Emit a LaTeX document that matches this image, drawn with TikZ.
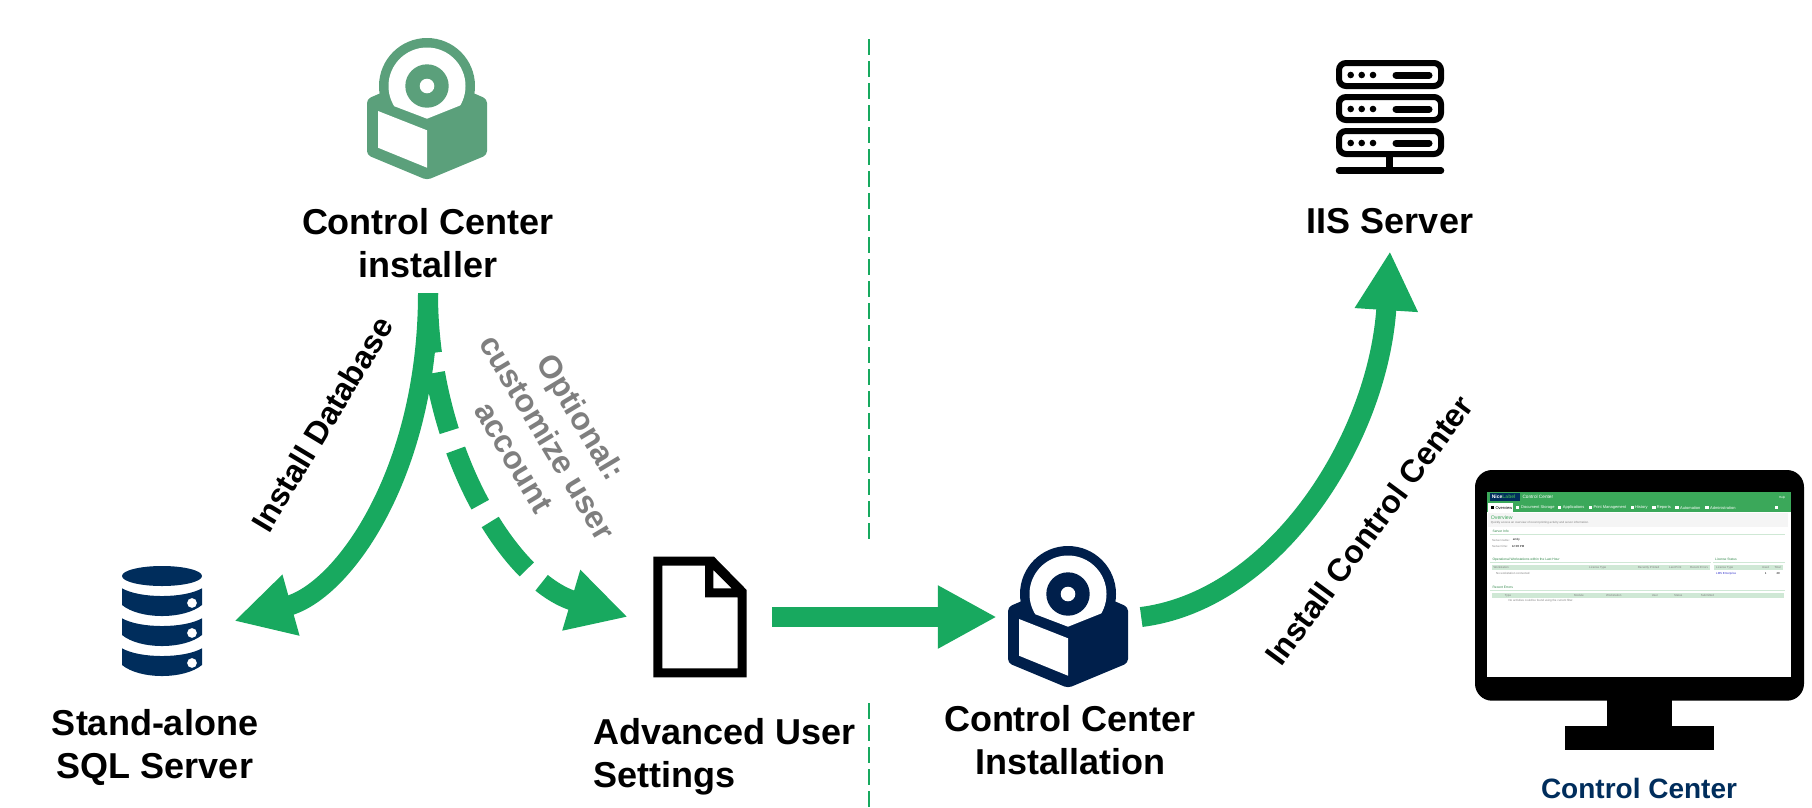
\documentclass[tikz,border=0pt]{standalone}
\usepackage{fontspec}
\setmainfont{Liberation Sans}
\usetikzlibrary{arrows.meta}

\definecolor{nlgreen}{HTML}{18A95F}
\definecolor{nlsoft}{HTML}{5BA07B}
\definecolor{nlnavy}{HTML}{001F4B}
\definecolor{nlblue}{HTML}{002D5C}
\definecolor{nlhead}{HTML}{3BA85A}
\definecolor{nlpale}{HTML}{CFE8D5}
\definecolor{nlgrey}{HTML}{7F7F7F}

\tikzset{
	biglabel/.style={font=\bfseries\fontsize{36pt}{43pt}\selectfont, align=center},
	armlabel/.style={font=\bfseries\fontsize{32pt}{39pt}\selectfont, align=center},
	iconbox/.style={minimum width=144pt, minimum height=120pt, inner sep=0pt},
	flow/.style={line width=20pt, nlgreen, -{Triangle[length=59pt,width=59pt]}},
	divider/.style={line width=2pt, nlgreen, dash pattern=on 16pt off 6pt},
	tiny/.style={anchor=west, inner sep=0pt, text=gray, font=\fontsize{2.9pt}{3.5pt}\selectfont},
	navtext/.style={tiny, text=white, font=\fontsize{4pt}{5pt}\selectfont},
	secttext/.style={tiny, text=nlhead!80!black, font=\fontsize{3.3pt}{4pt}\selectfont},
	pics/setupbox/.style={code={
		\fill[#1] (0,0) circle (48);
		\fill[#1, rounded corners=4pt] (-60,13) -- (0,-13) -- (60,13) -- (60,69) -- (0,94) -- (-60,69) -- cycle;
		\begin{scope}
			\clip (-50,-50) -- (50,-50) -- (50,14) -- (33,19.5) -- (0,32.7) -- (-32,20.5) -- (-50,14) -- cycle;
			\fill[white] (0,0) circle (38.5);
		\end{scope}
		\fill[#1] (0,0) circle (21.7);
		\fill[white] (0,0) circle (7.3);
		\fill[white] (-49,25) -- (0,44.3) -- (0,81.7) -- (-49,61.7) -- cycle;
	}}
}

\begin{document}
\begin{tikzpicture}[x=1pt,y=-1pt]

	\useasboundingbox (0,0) rectangle (1812,807);

	% dividing line
	\coordinate (d0) at (869,39);
	\coordinate (d1) at (869,539);
	\coordinate (d2) at (869,703);
	\coordinate (d3) at (869,807);
	\draw[divider] (d0) -- (d1);
	\draw[divider] (d2) -- (d3);

	% icons
	\node (sqlicon) [iconbox] at (162,621) {};
	\node (docicon) [iconbox] at (700,617) {};
	\node (insticon) [iconbox] at (1069,617) {};

	\pic at (427,86) {setupbox=nlsoft};
	\pic at (1068,594) {setupbox=nlnavy};

	% database
	\fill[nlblue] (162,576) ellipse (40 and 10);
	\foreach \y in {0,30,60}
	{
		\fill[nlblue, even odd rule] (122,588.3+\y) .. controls (140,598.6+\y) and (184,598.6+\y) .. (202,588.3+\y) -- (202,605+\y) .. controls (184,619.7+\y) and (140,619.7+\y) .. (122,605+\y) -- cycle
		(192,603+\y) circle (5);
	}

	% document
	\fill[black, even odd rule] (653.3,556.7) -- (714,556.7) -- (746.7,590) -- (746.7,677.3) -- (653.3,677.3) -- cycle
	(662.3,565.7) -- (705,565.7) -- (705,597.3) -- (737.7,597.3) -- (737.7,668.3) -- (662.3,668.3) -- cycle
	(713.3,570) -- (731.7,588.3) -- (713.3,588.3) -- cycle;

	% server
	\foreach \y in {63,97,131}
	{
		\draw[black, line width=6pt, rounded corners=7pt] (1339,\y) rectangle (1441,\y+23);
		\fill[black] (1350.7,\y+12) circle (3.3) (1361.7,\y+12) circle (3.3) (1373,\y+12) circle (3.3);
		\draw[black, line width=7pt, line cap=round] (1396,\y+12) -- (1429,\y+12);
	}
	\draw[black, line width=6.5pt] (1389.3,156) -- (1389.3,171);
	\draw[black, line width=6.5pt, line cap=round] (1339,170.7) -- (1441,170.7);

	% monitor
	\fill[black, rounded corners=17pt] (1475,470) rectangle (1804,700.7);
	\fill[black] (1606.7,700) rectangle (1672.3,726);
	\fill[black] (1565.3,725.7) rectangle (1713.7,750.3);
	\fill[white] (1486.7,492) rectangle (1791,677);

	% screenshot, in steps of a third of a pixel
	\begin{scope}[shift={(1460,460)},x=0.3333pt,y=-0.3333pt]
		\fill[nlhead] (80,96) rectangle (993,155);
		\fill[nlblue] (90,100) rectangle (180,123);
		\fill[white] (85,130) rectangle (160,155);
		\fill[gray!8] (85,160) rectangle (985,200);
		\fill[nlpale] (96,315) rectangle (750,331);
		\fill[nlpale] (763,315) rectangle (970,331);
		\fill[nlpale] (96,398) rectangle (972,415);
		\fill[nlpale] (90,222) rectangle (975,224);
		\fill[nlpale] (90,306) rectangle (752,308);
		\fill[nlpale] (760,306) rectangle (975,308);
		\fill[nlpale] (90,390) rectangle (975,392);
		\fill[black] (92,139) rectangle (102,148);
		\foreach \zx in {168,293,386,512,577,646,736,945}
			\fill[white] (\zx,139) rectangle (\zx+10,148);
		\foreach \zx/\zy/\txt [count=\i] in {183/143/{Document Storage},308/143/{Applications},400/143/{Print Management},525/143/{History},590/143/{Reports},660/143/{Automation},750/143/{Administration}}
			\node (nav\i) [navtext] at (\zx,\zy) {\txt};
		\node (apptitle) [navtext, font=\fontsize{4.7pt}{5pt}\selectfont] at (187,111) {Control Center};
		\node (helplink) [navtext, font=\fontsize{3pt}{4pt}\selectfont] at (957,113) {Help};
		\node (tablogo) [navtext, font=\bfseries\fontsize{5pt}{6pt}\selectfont] at (95,111) {Nice\textcolor{nlhead}{Label}};
		\node (tabhome) [navtext, text=black] at (106,143) {Overview};
		\node (pagehead) [tiny, text=nlhead, font=\fontsize{5.2pt}{6pt}\selectfont] at (92,174) {Overview};
		\foreach \zx/\zy/\txt [count=\i] in {97/215/{Server Info},97/298/{Operational Workstations within the Last Hour},765/298/{License Status},97/382/{Recent Errors}}
			\node (sect\i) [secttext] at (\zx,\zy) {\txt};
		\foreach \zx/\zy/\txt [count=\i] in {92/189/{Quickly access an overview of recent printing activity and server information.},96/240/{Server name:},96/259/{Server time:},100/323/{Workstation},387/323/{License Type},533/323/{Recently Printed},627/323/{Last Print},690/323/{Recent Errors},108/339/{No workstation connected},768/323/{License Type},906/323/{Used},943/323/{Total},134/407/{Type},342/407/{Module},438/407/{Workstation},575/407/{User},642/407/{Status},722/407/{Submitted},145/423/{No activities could be found using the current filter.}}
			\node (cell\i) [tiny] at (\zx,\zy) {\txt};
		\node (srvname) [tiny, text=black] at (158,240) {amity};
		\node (srvtime) [tiny, text=black] at (155,259) {12:00 PM};
		\node (lictype) [tiny, text=blue!60!gray] at (768,341) {LMS Enterprise};
		\node (licused) [tiny, text=black] at (914,341) {1};
		\node (lictotal) [tiny, text=black] at (949,341) {20};
	\end{scope}

	% labels
	\node (installer) [biglabel, minimum height=100pt, inner sep=0pt] at (428,243) {Control Center\\installer};
	\node (iis) [biglabel, minimum height=60pt, inner sep=0pt] at (1390,221) {IIS Server};
	\node (sqlserver) [biglabel] at (155,747) {Stand-alone\\SQL Server};
	\node (usersettings) [biglabel, align=left, anchor=west] at (590,757) {Advanced User\\Settings};
	\node (installation) [biglabel] at (1070,740) {Control Center\\Installation};
	\node (consolename) [biglabel, text=nlblue, font=\bfseries\fontsize{28pt}{34pt}\selectfont] at (1639,788) {Control Center};

	\node (dblabel) [armlabel, rotate=59] at (322,424) {Install Database};
	\node (optlabel) [armlabel, rotate=-59, text=nlgrey] at (548,437) {Optional:\\customize user\\account};
	\node (cclabel) [armlabel, rotate=53.5] at (1369,530) {Install Control Center};

	% connectors
	\draw[flow] (installer.south) .. controls (428,470) and (345,590) .. (sqlicon.east);
	\draw[flow, dash pattern=on 60pt off 20pt] (installer.south) .. controls (428,450) and (510,582) .. (docicon.west);
	\draw[flow] (docicon.east) -- (insticon.west);
	\draw[flow] (insticon.east) .. controls (1275,600) and (1378,440) .. (iis.south);

\end{tikzpicture}
\end{document}
